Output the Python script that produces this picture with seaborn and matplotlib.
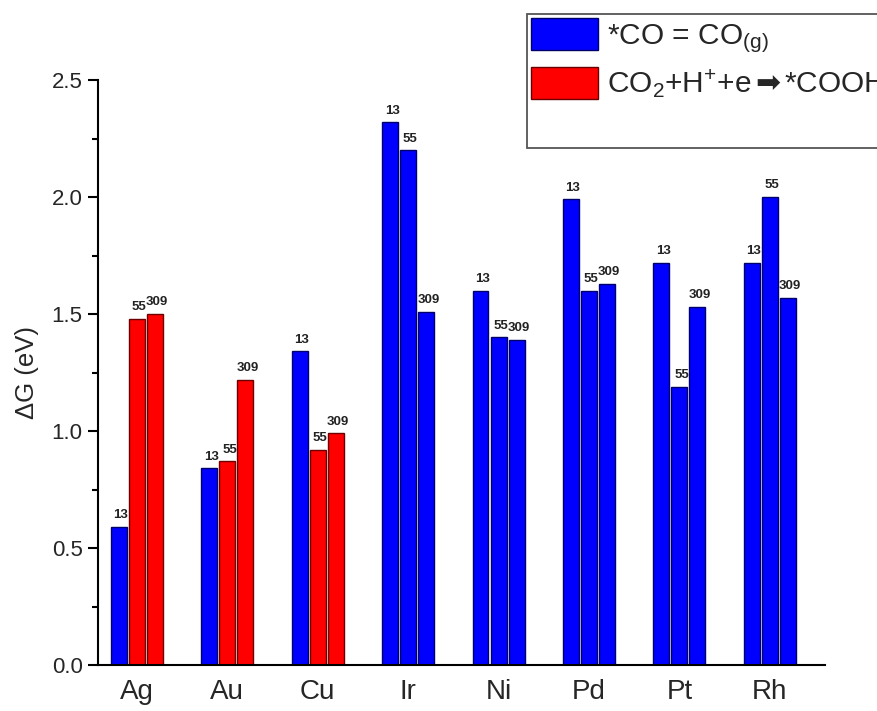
import matplotlib
matplotlib.use("Agg")
import matplotlib.pyplot as plt
from matplotlib.patches import Patch
from matplotlib.ticker import MultipleLocator
import seaborn as sns
import pandas as pd

metals = ["Ag", "Au", "Cu", "Ir", "Ni", "Pd", "Pt", "Rh"]
cluster_sizes = ["13", "55", "309"]

# Limiting free-energy step (eV) for each metal at cluster sizes 13, 55, 309
dg_13 = [0.59, 0.84, 1.34, 2.32, 1.60, 1.99, 1.72, 1.72]
dg_55 = [1.48, 0.87, 0.92, 2.20, 1.40, 1.60, 1.19, 2.00]
dg_309 = [1.50, 1.22, 0.99, 1.51, 1.39, 1.63, 1.53, 1.57]

# Which step limits: "CO" = *CO desorption, "COOH" = *COOH formation
step_13 = ["CO", "CO", "CO", "CO", "CO", "CO", "CO", "CO"]
step_55 = ["COOH", "COOH", "COOH", "CO", "CO", "CO", "CO", "CO"]
step_309 = ["COOH", "COOH", "COOH", "CO", "CO", "CO", "CO", "CO"]

legend_labels = [r"*CO = CO$_{\mathregular{(g)}}$",
                 r"CO$_2$+H$^{+}$+e$\,\mathsf{➡}\,$*COOH"]

rows = []
for size, vals, steps in zip(cluster_sizes, [dg_13, dg_55, dg_309],
                             [step_13, step_55, step_309]):
    for m, v, s in zip(metals, vals, steps):
        rows.append({"metal": m, "size": size, "dG": v, "step": s})
df = pd.DataFrame(rows)

fill = {"CO": "#0000ff", "COOH": "#ff0000"}
edge = {"CO": "#00006a", "COOH": "#6a0000"}

sns.set_style("ticks")
plt.rcParams["font.family"] = ["Liberation Sans", "DejaVu Sans"]
# math text in the legend: Liberation for letters, DejaVu (sf) for the arrow glyph
plt.rcParams["mathtext.fontset"] = "custom"
plt.rcParams["mathtext.rm"] = "Liberation Sans"
plt.rcParams["mathtext.it"] = "Liberation Sans:italic"
plt.rcParams["mathtext.bf"] = "Liberation Sans:bold"
plt.rcParams["mathtext.sf"] = "DejaVu Sans"

fig = plt.figure(figsize=(8.77, 7.11), dpi=100)
ax = fig.add_axes([98 / 877, 1 - 665 / 711, (825 - 98) / 877, (665 - 80) / 711])

sns.barplot(data=df, x="metal", y="dG", hue="size", order=metals,
            hue_order=cluster_sizes, width=0.6, gap=0.12, dodge=True,
            legend=False, ax=ax, errorbar=None)

for container, size in zip(ax.containers, cluster_sizes):
    sub = df[df["size"] == size].set_index("metal").loc[metals]
    for bar, (m, r) in zip(container, sub.iterrows()):
        bar.set_facecolor(fill[r["step"]])
        bar.set_edgecolor(edge[r["step"]])
        bar.set_linewidth(1.0)
        ax.annotate(size, (bar.get_x() + bar.get_width() / 2, r["dG"]),
                    xytext=(1.5, 4), textcoords="offset points",
                    ha="center", va="bottom", fontsize=9.5,
                    fontweight="bold", color="#222222")

ax.set_xlim(-0.431, 7.611)
ax.set_ylim(0, 2.5)
ax.yaxis.set_major_locator(MultipleLocator(0.5))
ax.yaxis.set_minor_locator(MultipleLocator(0.25))
ax.set_yticks([0, 0.5, 1.0, 1.5, 2.0, 2.5])
ax.set_yticklabels(["0.0", "0.5", "1.0", "1.5", "2.0", "2.5"])
ax.tick_params(axis="y", which="major", direction="out", length=7,
               width=1.5, labelsize=16, pad=4, color="black")
ax.tick_params(axis="y", which="minor", direction="out", length=4,
               width=1.5, color="black")
ax.tick_params(axis="x", length=0, labelsize=20, pad=10)
ax.set_xlabel("")
ax.set_ylabel("ΔG (eV)", fontsize=18.5, labelpad=9)
for side in ["top", "right"]:
    ax.spines[side].set_visible(False)
for side in ["left", "bottom"]:
    ax.spines[side].set_linewidth(1.5)
    ax.spines[side].set_color("black")

handles = [Patch(facecolor=fill["CO"], edgecolor=edge["CO"], linewidth=1.0),
           Patch(facecolor=fill["COOH"], edgecolor=edge["COOH"], linewidth=1.0),
           Patch(facecolor="none", edgecolor="none")]
leg = fig.legend(handles, legend_labels + [""], loc="upper left",
                 bbox_to_anchor=(527 / 877, 1 - 14 / 711), borderaxespad=0,
                 prop={"family": ["Liberation Sans", "DejaVu Sans"], "size": 21.5},
                 handlelength=2.27, handleheight=1.3,
                 handletextpad=0.3, labelspacing=0.4, borderpad=0.12,
                 frameon=True, fancybox=False)
frame = leg.get_frame()
frame.set_edgecolor("#555555")
frame.set_linewidth(1.3)
frame.set_alpha(1)

fig.savefig("out.png", dpi=100)
